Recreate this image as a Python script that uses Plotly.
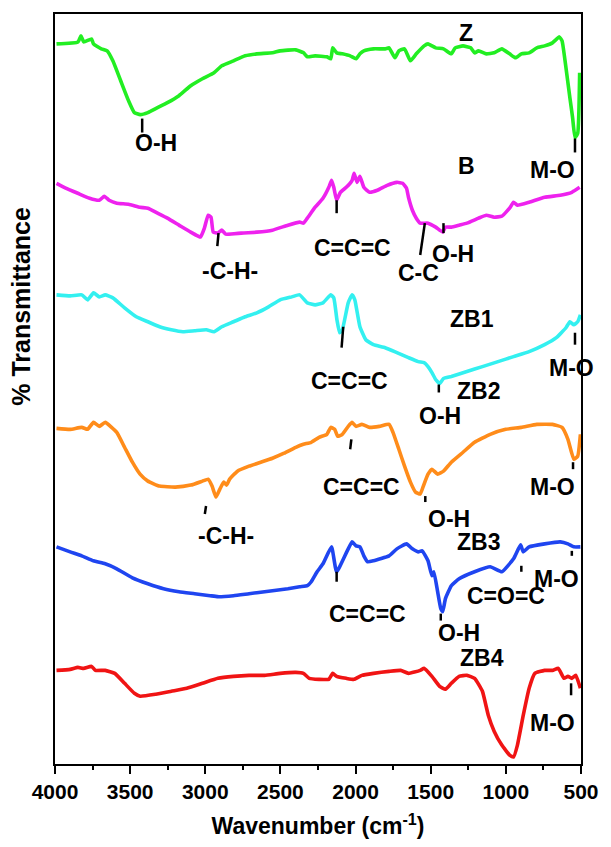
import plotly.graph_objects as go

# ---- FTIR spectra (wavenumber in cm^-1, stacked transmittance in arbitrary offset units) ----
z_wn = [3990, 3847, 3827, 3809, 3757, 3744, 3692, 3653, 3615, 3563, 3511, 3472, 3433, 3382, 3330,
        3252, 3175, 3097, 3019, 2942, 2890, 2812, 2735, 2657, 2553, 2502, 2398, 2346, 2321, 2269,
        2191, 2165, 2152, 2126, 2088, 2036, 1997, 1971, 1945, 1881, 1803, 1777, 1738, 1712, 1674,
        1635, 1596, 1544, 1518, 1467, 1415, 1363, 1337, 1285, 1234, 1208, 1182, 1130, 1078, 1027,
        975, 936, 897, 845, 794, 742, 690, 644, 626, 600, 574, 556, 540, 522, 509]
z_t = [723, 725, 731, 725, 728, 723, 718, 716, 706, 686, 666, 654, 652, 654, 658,
       664, 671, 681, 688, 694, 701, 706, 711, 713, 714, 716, 717, 714, 710, 711,
       710, 708, 719, 714, 713, 711, 708, 713, 716, 718, 718, 719, 709, 716, 718,
       706, 713, 721, 723, 719, 718, 713, 719, 721, 719, 714, 716, 713, 714, 718,
       713, 709, 713, 714, 719, 721, 724, 730, 726, 699, 669, 649, 629, 633, 694]

b_wn = [3990, 3925, 3848, 3770, 3705, 3672, 3640, 3589, 3511, 3434, 3382, 3330, 3252, 3175, 3097,
        3032, 3006, 2981, 2962, 2947, 2916, 2890, 2864, 2761, 2657, 2553, 2450, 2372, 2347, 2321,
        2269, 2217, 2178, 2160, 2145, 2126, 2101, 2062, 2023, 2010, 1990, 1971, 1945, 1907, 1855,
        1790, 1725, 1687, 1661, 1648, 1622, 1596, 1570, 1518, 1467, 1420, 1402, 1363, 1311, 1259,
        1182, 1130, 1078, 1027, 975, 949, 923, 845, 742, 638, 561, 509]
b_t = [583, 578, 573, 568, 566, 570, 566, 563, 562, 559, 558, 554, 548, 541, 534,
       529, 538, 551, 549, 534, 533, 536, 532, 533, 534, 536, 541, 544, 543, 548,
       559, 568, 579, 586, 579, 566, 574, 579, 586, 593, 584, 590, 579, 574, 576,
       581, 584, 583, 578, 569, 556, 548, 543, 543, 539, 534, 539, 539, 541, 543,
       548, 551, 549, 550, 558, 564, 561, 564, 569, 571, 574, 579]

zb1_wn = [3990, 3899, 3822, 3783, 3744, 3705, 3666, 3615, 3537, 3459, 3382, 3304, 3226, 3149, 3071,
          2993, 2942, 2890, 2812, 2735, 2657, 2579, 2502, 2424, 2372, 2321, 2269, 2217, 2165, 2145,
          2124, 2106, 2088, 2049, 2023, 2005, 1971, 1932, 1881, 1803, 1725, 1648, 1583, 1544, 1518,
          1492, 1467, 1441, 1415, 1363, 1259, 1156, 1052, 949, 845, 742, 664, 600, 574, 548, 522, 504]
zb1_t = [471, 470, 471, 466, 473, 469, 471, 468, 458, 449, 444, 439, 436, 434, 435,
         436, 434, 439, 444, 449, 453, 459, 466, 469, 471, 463, 461, 463, 471, 468,
         446, 433, 436, 463, 471, 466, 439, 426, 421, 418, 413, 408, 404, 403, 399,
         393, 386, 382, 387, 389, 394, 399, 404, 409, 414, 421, 428, 438, 444, 441, 444, 451]

zb2_wn = [3990, 3899, 3822, 3783, 3744, 3705, 3666, 3589, 3537, 3485, 3434, 3382, 3304, 3200, 3097,
          3019, 2981, 2955, 2929, 2903, 2877, 2859, 2838, 2786, 2709, 2631, 2553, 2476, 2398, 2347,
          2295, 2243, 2191, 2165, 2139, 2119, 2088, 2049, 2023, 1997, 1958, 1907, 1842, 1777, 1751,
          1712, 1674, 1635, 1601, 1570, 1549, 1518, 1492, 1454, 1415, 1363, 1285, 1208, 1104, 1001,
          897, 794, 690, 626, 587, 548, 522, 504]
zb2_t = [337, 336, 338, 336, 343, 339, 343, 333, 318, 303, 291, 284, 279, 278, 280,
         284, 286, 279, 268, 276, 283, 280, 286, 294, 299, 303, 307, 312, 318, 321,
         323, 328, 331, 338, 336, 329, 331, 339, 343, 339, 341, 338, 339, 341, 333,
         316, 299, 283, 273, 271, 279, 291, 296, 291, 294, 303, 313, 323, 331, 336,
         338, 341, 341, 338, 326, 306, 309, 331]

zb3_wn = [3990, 3899, 3822, 3744, 3666, 3589, 3485, 3382, 3278, 3175, 3071, 2968, 2916, 2812, 2709,
          2605, 2553, 2450, 2372, 2321, 2295, 2256, 2217, 2160, 2126, 2023, 1997, 1971, 1945, 1920,
          1881, 1777, 1725, 1661, 1622, 1583, 1557, 1518, 1492, 1479, 1454, 1433, 1420, 1402, 1363,
          1311, 1208, 1104, 1027, 949, 902, 884, 845, 742, 638, 587, 548, 504]
zb3_t = [218, 213, 209, 204, 201, 196, 187, 181, 176, 173, 171, 169, 168, 169, 171,
         173, 174, 176, 178, 179, 183, 193, 201, 218, 193, 223, 219, 218, 209, 203,
         204, 209, 216, 221, 216, 213, 214, 204, 189, 193, 173, 156, 153, 166, 179,
         186, 193, 198, 193, 206, 220, 213, 218, 221, 223, 221, 218, 218]

zb4_wn = [3990, 3899, 3848, 3809, 3757, 3731, 3666, 3602, 3537, 3472, 3433, 3330, 3226, 3123, 3019,
          2916, 2812, 2709, 2605, 2502, 2398, 2347, 2308, 2243, 2178, 2152, 2126, 2062, 2010, 1958,
          1881, 1777, 1700, 1648, 1570, 1544, 1492, 1441, 1402, 1363, 1311, 1259, 1208, 1156, 1117,
          1078, 1027, 975, 949, 923, 884, 845, 807, 742, 690, 651, 613, 587, 561, 535, 504]
zb4_t = [94, 95, 97, 96, 98, 94, 94, 91, 81, 71, 68, 70, 73, 76, 81,
         86, 88, 89, 89, 91, 92, 91, 86, 85, 85, 91, 88, 86, 85, 89,
         91, 93, 94, 91, 94, 96, 88, 78, 75, 81, 88, 89, 86, 73, 49,
         33, 19, 9, 7, 19, 49, 76, 91, 94, 94, 96, 86, 88, 86, 89, 76]

series = [
    ("Z", z_wn, z_t, "#22EE22"),
    ("B", b_wn, b_t, "#EE22EE"),
    ("ZB1", zb1_wn, zb1_t, "#33F0F0"),
    ("ZB2", zb2_wn, zb2_t, "#FF8C1A"),
    ("ZB3", zb3_wn, zb3_t, "#1F45F0"),
    ("ZB4", zb4_wn, zb4_t, "#F01414"),
]

# ---- band assignments: label text, text position, marker line (wn, top, bottom) ----
band_text = ["O-H", "M-O", "-C-H-", "C=C=C", "C-C", "O-H", "C=C=C", "M-O", "O-H",
             "C=C=C", "-C-H-", "O-H", "M-O", "C=C=C", "O-H", "C=O=C", "M-O", "M-O"]
band_text_wn = [3330, 690, 2838, 2023, 1583, 1350, 2041, 560, 1441,
                1958, 2864, 1376, 690, 1920, 1310, 1001, 664, 690]
band_text_t = [623, 596, 495, 518, 493, 512, 385, 398, 349,
               278, 229, 246, 278, 151, 132, 169, 186, 41]
tick_wn_top = [3420, 540, 2912, 2126, 1539, 1415, 2082, 540, 1446,
               2028, 2995, 1536, 553, 2126, 1433, 897, 561, 566]
tick_wn_bot = [3420, 540, 2920, 2126, 1570, 1415, 2093, 540, 1446,
               2036, 3003, 1536, 553, 2126, 1433, 897, 561, 566]
tick_t_top = [648, 628, 533, 566, 543, 543, 439, 433, 381,
              326, 259, 269, 303, 193, 151, 199, 214, 81]
tick_t_bot = [634, 614, 520, 553, 511, 533, 418, 421, 373,
              316, 251, 263, 296, 183, 144, 193, 209, 69]

# sample names placed above each spectrum
name_text = ["Z", "B", "ZB1", "ZB2", "ZB3", "ZB4"]
name_wn = [1267, 1260, 1226, 1182, 1182, 1160]
name_t = [734, 600, 447, 374, 223, 106]

FONT = "Liberation Sans, Arial, sans-serif"

fig = go.Figure()
for name, wn, t, color in series:
    fig.add_trace(go.Scatter(x=wn, y=t, mode="lines", name=name,
                             line=dict(color=color, width=3.6, shape="spline", smoothing=0.4),
                             showlegend=False, hoverinfo="skip"))

# short black marker lines at assigned bands
tx, ty = [], []
for x0, x1, y0, y1 in zip(tick_wn_top, tick_wn_bot, tick_t_top, tick_t_bot):
    tx += [x0, x1, None]
    ty += [y0, y1, None]
fig.add_trace(go.Scatter(x=tx, y=ty, mode="lines", line=dict(color="black", width=2.5),
                         showlegend=False, hoverinfo="skip"))

for txt, x, y in zip(band_text + name_text, band_text_wn + name_wn, band_text_t + name_t):
    fig.add_annotation(x=x, y=y, text=txt, showarrow=False, xref="x", yref="y",
                       font=dict(family=FONT, size=23, color="black", weight="bold"))

# rotated y-axis title, sitting left of the frame
fig.add_annotation(x=-0.066, y=0.61, xref="paper", yref="paper", text="% Transmittance",
                   showarrow=False, textangle=-90, xanchor="center", yanchor="middle",
                   font=dict(family=FONT, size=25, color="black", weight="bold"))

fig.update_layout(
    width=611, height=847,
    margin=dict(l=55, r=29, t=13, b=81),
    paper_bgcolor="white", plot_bgcolor="white",
    xaxis=dict(range=[4000, 500], tickmode="linear", tick0=500, dtick=500,
               ticks="outside", ticklen=8, tickwidth=2, tickcolor="black",
               showline=True, linewidth=2, linecolor="black", mirror=True,
               showgrid=False, zeroline=False,
               minor=dict(ticks="outside", ticklen=4, tickwidth=2, tickcolor="black",
                          tick0=750, dtick=500, showgrid=False),
               tickfont=dict(family=FONT, size=21, color="black", weight="bold"),
               title=dict(text="Wavenumber (cm<sup>-1</sup>)", standoff=16,
                          font=dict(family=FONT, size=23, color="black", weight="bold"))),
    yaxis=dict(range=[0, 753], showticklabels=False, ticks="",
               showline=True, linewidth=2, linecolor="black", mirror=True,
               showgrid=False, zeroline=False),
)
fig.write_html("out.html")
